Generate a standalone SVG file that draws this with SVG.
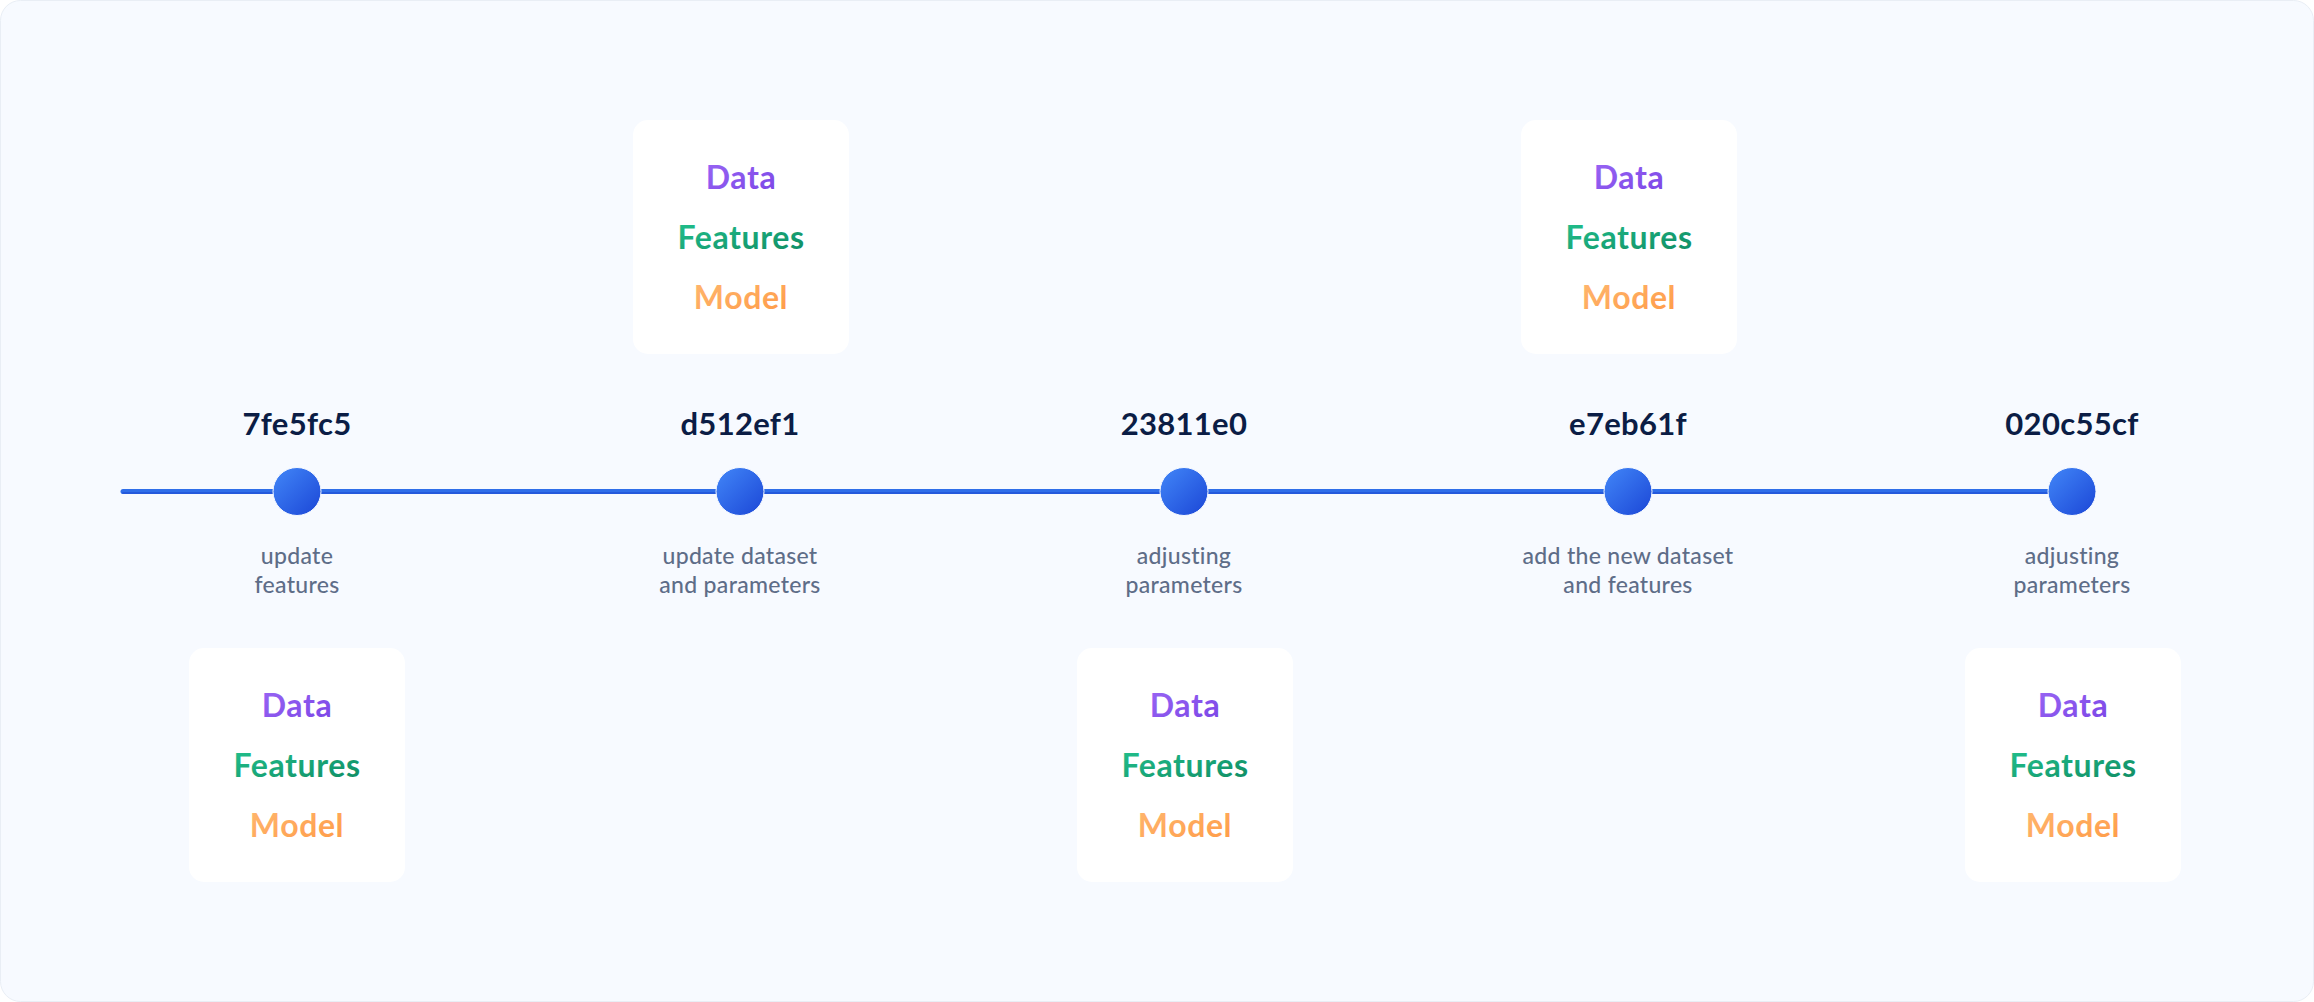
<svg xmlns="http://www.w3.org/2000/svg" width="2314" height="1002" viewBox="0 0 2314 1002">
<defs>
<linearGradient id="dot" x1="0" y1="0" x2="1" y2="1"><stop offset="0" stop-color="#4287f8"/><stop offset="1" stop-color="#1b46d6"/></linearGradient>
<linearGradient id="gData" x1="0" y1="0" x2="1" y2="1"><stop offset="0" stop-color="#9a66f4"/><stop offset="1" stop-color="#7a45e6"/></linearGradient>
<linearGradient id="gFeat" x1="0" y1="0" x2="1" y2="1"><stop offset="0" stop-color="#22c28e"/><stop offset="1" stop-color="#0f8a62"/></linearGradient>
<linearGradient id="gModel" x1="0" y1="0" x2="1" y2="1"><stop offset="0" stop-color="#ffb871"/><stop offset="1" stop-color="#ff9a46"/></linearGradient>
<style>
.hash{font-family:Lato,"Liberation Sans",sans-serif;font-weight:700;font-size:31px;letter-spacing:0.3px;fill:#0b1d45;text-anchor:middle}
.desc{font-family:Lato,"Liberation Sans",sans-serif;font-weight:500;font-size:23px;letter-spacing:0.3px;fill:#5e6d88;text-anchor:middle}
.box{fill:#ffffff}
.bt{font-family:Lato,"Liberation Sans",sans-serif;font-weight:700;font-size:32px;letter-spacing:0.6px;text-anchor:middle}
.d{fill:url(#gData)} .f{fill:url(#gFeat)} .m{fill:url(#gModel)}
.dot{fill:url(#dot);stroke:#f7faff;stroke-width:1}
</style>
</defs>
<rect x="0.5" y="0.5" width="2313" height="1001" rx="20" fill="#f7faff" stroke="#e9eef5"/>
<g id="connectors">
<line x1="123" y1="491.5" x2="2072" y2="491.5" stroke="#2f6ee9" stroke-width="5" stroke-linecap="round"/>
<line x1="123" y1="493" x2="2072" y2="493" stroke="#2459dc" stroke-width="2" stroke-linecap="round"/>
</g>
<g id="commit-7fe5fc5">
<text class="hash" x="297" y="435">7fe5fc5</text>
<circle class="dot" cx="297" cy="491.5" r="24"/>
<text class="desc" x="297" y="564">update</text>
<text class="desc" x="297" y="593">features</text>
</g>
<g id="commit-d512ef1">
<text class="hash" x="740" y="435">d512ef1</text>
<circle class="dot" cx="740" cy="491.5" r="24"/>
<text class="desc" x="740" y="564">update dataset</text>
<text class="desc" x="740" y="593">and parameters</text>
</g>
<g id="commit-23811e0">
<text class="hash" x="1184" y="435">23811e0</text>
<circle class="dot" cx="1184" cy="491.5" r="24"/>
<text class="desc" x="1184" y="564">adjusting</text>
<text class="desc" x="1184" y="593">parameters</text>
</g>
<g id="commit-e7eb61f">
<text class="hash" x="1628" y="435">e7eb61f</text>
<circle class="dot" cx="1628" cy="491.5" r="24"/>
<text class="desc" x="1628" y="564">add the new dataset</text>
<text class="desc" x="1628" y="593">and features</text>
</g>
<g id="commit-020c55cf">
<text class="hash" x="2072" y="435">020c55cf</text>
<circle class="dot" cx="2072" cy="491.5" r="24"/>
<text class="desc" x="2072" y="564">adjusting</text>
<text class="desc" x="2072" y="593">parameters</text>
</g>
<g id="box-7fe5fc5">
<rect class="box" x="189" y="648" width="216" height="234" rx="15"/>
<text class="bt d" x="297" y="717">Data</text>
<text class="bt f" x="297" y="777">Features</text>
<text class="bt m" x="297" y="837">Model</text>
</g>
<g id="box-d512ef1">
<rect class="box" x="633" y="120" width="216" height="234" rx="15"/>
<text class="bt d" x="741" y="189">Data</text>
<text class="bt f" x="741" y="249">Features</text>
<text class="bt m" x="741" y="309">Model</text>
</g>
<g id="box-23811e0">
<rect class="box" x="1077" y="648" width="216" height="234" rx="15"/>
<text class="bt d" x="1185" y="717">Data</text>
<text class="bt f" x="1185" y="777">Features</text>
<text class="bt m" x="1185" y="837">Model</text>
</g>
<g id="box-e7eb61f">
<rect class="box" x="1521" y="120" width="216" height="234" rx="15"/>
<text class="bt d" x="1629" y="189">Data</text>
<text class="bt f" x="1629" y="249">Features</text>
<text class="bt m" x="1629" y="309">Model</text>
</g>
<g id="box-020c55cf">
<rect class="box" x="1965" y="648" width="216" height="234" rx="15"/>
<text class="bt d" x="2073" y="717">Data</text>
<text class="bt f" x="2073" y="777">Features</text>
<text class="bt m" x="2073" y="837">Model</text>
</g>
</svg>
